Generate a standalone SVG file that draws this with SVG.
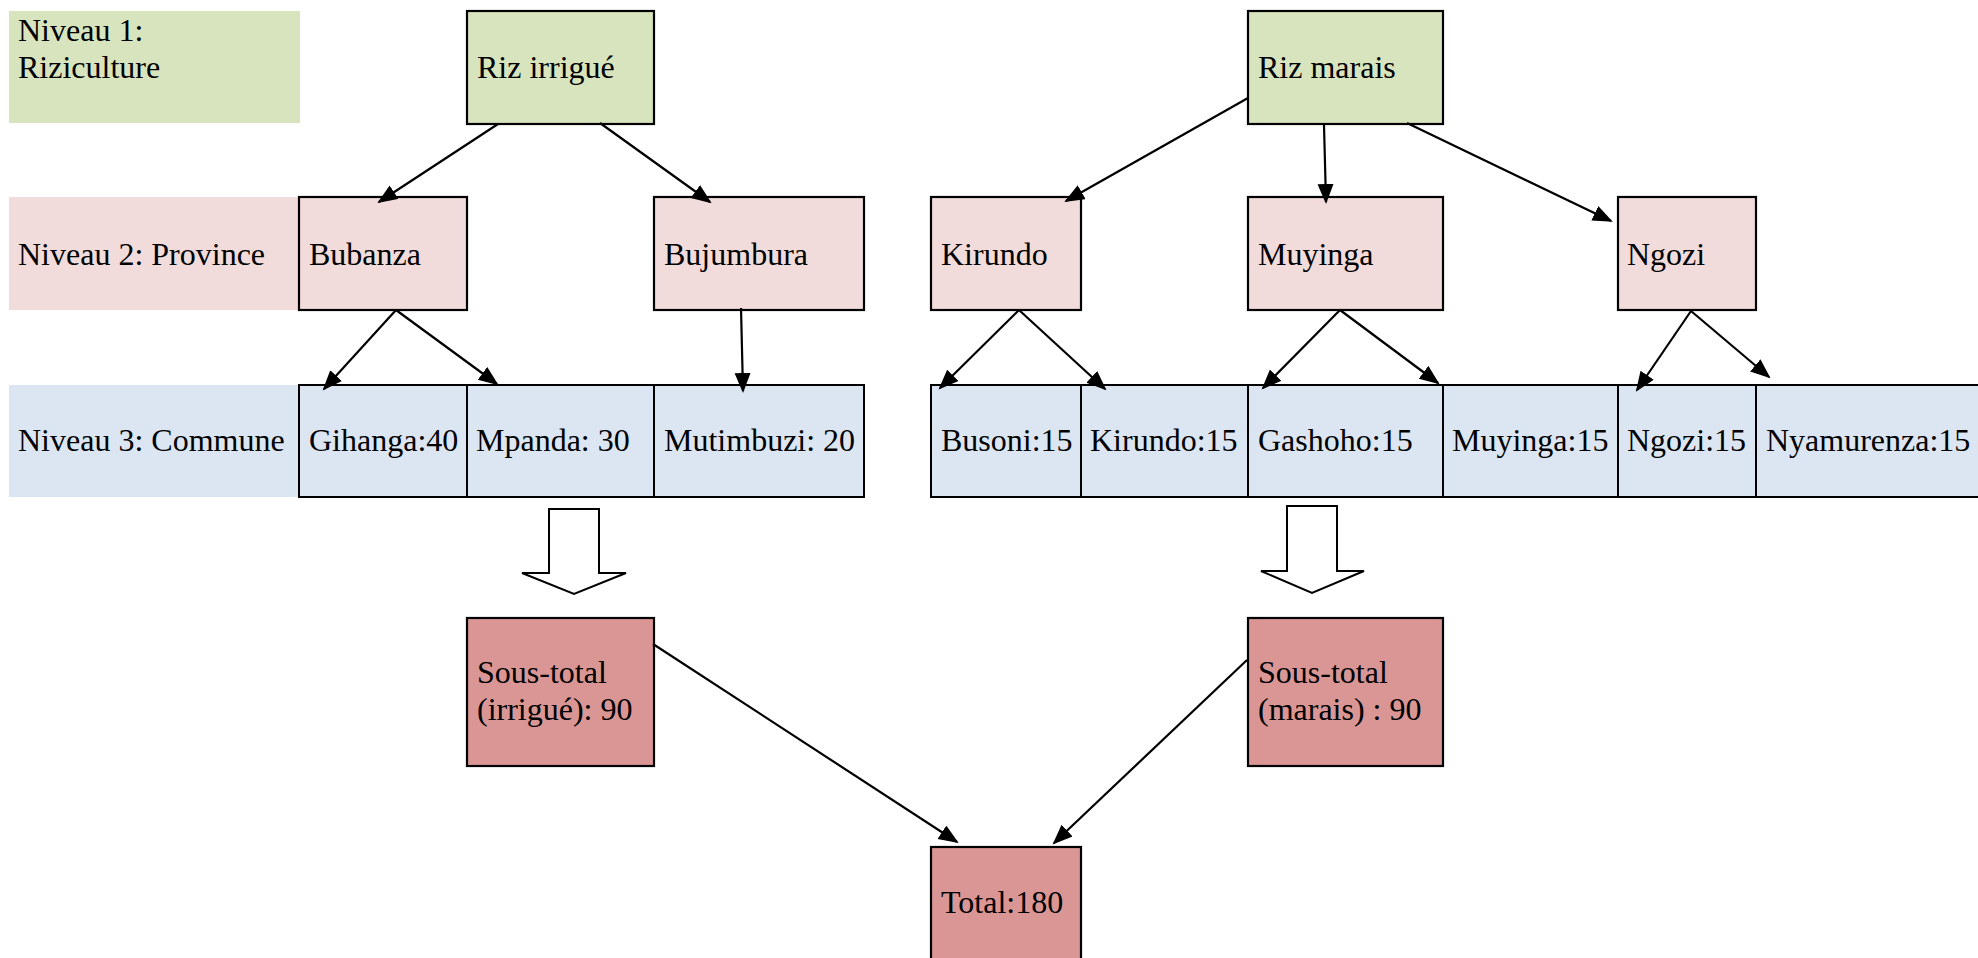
<svg xmlns="http://www.w3.org/2000/svg" width="1978" height="958" viewBox="0 0 1978 958">
<style>
text{font-family:"Liberation Serif","Times New Roman",serif;font-size:32px;fill:#000}
.g{fill:#d7e4bd}
.p{fill:#f2dcdb}
.b{fill:#dce6f2}
.r{fill:#d99694}
.box{stroke:#000;stroke-width:2.2}
.cell{stroke:#000;stroke-width:2}
.con{stroke:#000;stroke-width:2.2;fill:none;marker-end:url(#ah)}
.blk{fill:#fff;stroke:#000;stroke-width:2;stroke-linejoin:miter}
</style>
<defs>
<marker id="ah" markerUnits="userSpaceOnUse" markerWidth="22" markerHeight="18" refX="18" refY="8" orient="auto">
<path d="M0,0 L20,8 L0,16 Z" fill="#000"/>
</marker>
</defs>
<rect width="1978" height="958" fill="#fff"/>

<g id="level-labels">
<g id="lvl1"><rect class="g" x="9" y="11" width="291" height="112"/><text x="18" y="41">Niveau 1:</text><text x="18" y="78">Riziculture</text></g>
<g id="lvl2"><rect class="p" x="9" y="197" width="290" height="113"/><text x="18" y="265">Niveau 2: Province</text></g>
<g id="lvl3"><rect class="b" x="9" y="385" width="290" height="112"/><text x="18" y="451">Niveau 3: Commune</text></g>
</g>

<g id="riz-irrigue"><rect class="g box" x="467" y="11" width="187" height="113"/><text x="477" y="78">Riz irrigué</text></g>
<g id="riz-marais"><rect class="g box" x="1248" y="11" width="195" height="113"/><text x="1258" y="78">Riz marais</text></g>

<g id="bubanza"><rect class="p box" x="299" y="197" width="168" height="113"/><text x="309" y="265">Bubanza</text></g>
<g id="bujumbura"><rect class="p box" x="654" y="197" width="210" height="113"/><text x="664" y="265">Bujumbura</text></g>
<g id="kirundo"><rect class="p box" x="931" y="197" width="150" height="113"/><text x="941" y="265">Kirundo</text></g>
<g id="muyinga"><rect class="p box" x="1248" y="197" width="195" height="113"/><text x="1258" y="265">Muyinga</text></g>
<g id="ngozi"><rect class="p box" x="1618" y="197" width="138" height="113"/><text x="1627" y="265">Ngozi</text></g>

<g id="gihanga"><rect class="b cell" x="299" y="385" width="168" height="112"/><text x="309" y="451">Gihanga:40</text></g>
<g id="mpanda"><rect class="b cell" x="467" y="385" width="187" height="112"/><text x="476" y="451">Mpanda: 30</text></g>
<g id="mutimbuzi"><rect class="b cell" x="654" y="385" width="210" height="112"/><text x="664" y="451">Mutimbuzi: 20</text></g>
<g id="busoni"><rect class="b cell" x="931" y="385" width="150" height="112"/><text x="941" y="451">Busoni:15</text></g>
<g id="kirundo-c"><rect class="b cell" x="1081" y="385" width="167" height="112"/><text x="1090" y="451">Kirundo:15</text></g>
<g id="gashoho"><rect class="b cell" x="1248" y="385" width="195" height="112"/><text x="1258" y="451">Gashoho:15</text></g>
<g id="muyinga-c"><rect class="b cell" x="1443" y="385" width="175" height="112"/><text x="1452" y="451">Muyinga:15</text></g>
<g id="ngozi-c"><rect class="b cell" x="1618" y="385" width="138" height="112"/><text x="1627" y="451">Ngozi:15</text></g>
<g id="nyamurenza"><rect class="b cell" x="1756" y="385" width="240" height="112"/><text x="1766" y="451">Nyamurenza:15</text></g>

<g id="sous-total-irrigue"><rect class="r box" x="467" y="618" width="187" height="148"/><text x="477" y="683">Sous-total</text><text x="477" y="720">(irrigué): 90</text></g>
<g id="sous-total-marais"><rect class="r box" x="1248" y="618" width="195" height="148"/><text x="1258" y="683">Sous-total</text><text x="1258" y="720">(marais) : 90</text></g>
<g id="total"><rect class="r box" x="931" y="847" width="150" height="130"/><text x="941" y="913">Total:180</text></g>

<g id="connectors">
<line class="con" x1="498" y1="124" x2="379" y2="202"/>
<line class="con" x1="600" y1="123" x2="710" y2="202"/>
<line class="con" x1="1248" y1="98" x2="1066" y2="201"/>
<line class="con" x1="1324" y1="125" x2="1326" y2="202"/>
<line class="con" x1="1407" y1="123" x2="1611" y2="221"/>
<line class="con" x1="396" y1="310" x2="324" y2="389"/>
<line class="con" x1="396" y1="310" x2="497" y2="384"/>
<line class="con" x1="741" y1="308" x2="743" y2="391"/>
<line class="con" x1="1019" y1="310" x2="940" y2="388"/>
<line class="con" x1="1019" y1="310" x2="1105" y2="389"/>
<line class="con" x1="1340" y1="310" x2="1263" y2="388"/>
<line class="con" x1="1340" y1="310" x2="1438" y2="383"/>
<line class="con" x1="1691" y1="311" x2="1637" y2="390"/>
<line class="con" x1="1691" y1="311" x2="1769" y2="377"/>
<line class="con" x1="653" y1="644" x2="957" y2="842"/>
<line class="con" x1="1247" y1="660" x2="1054" y2="843"/>
<polygon class="blk" points="549,509 599,509 599,573 626,573 574,594 522,573 549,573"/>
<polygon class="blk" points="1287,506 1337,506 1337,571 1364,571 1312,593 1261,571 1287,571"/>
</g>
</svg>
